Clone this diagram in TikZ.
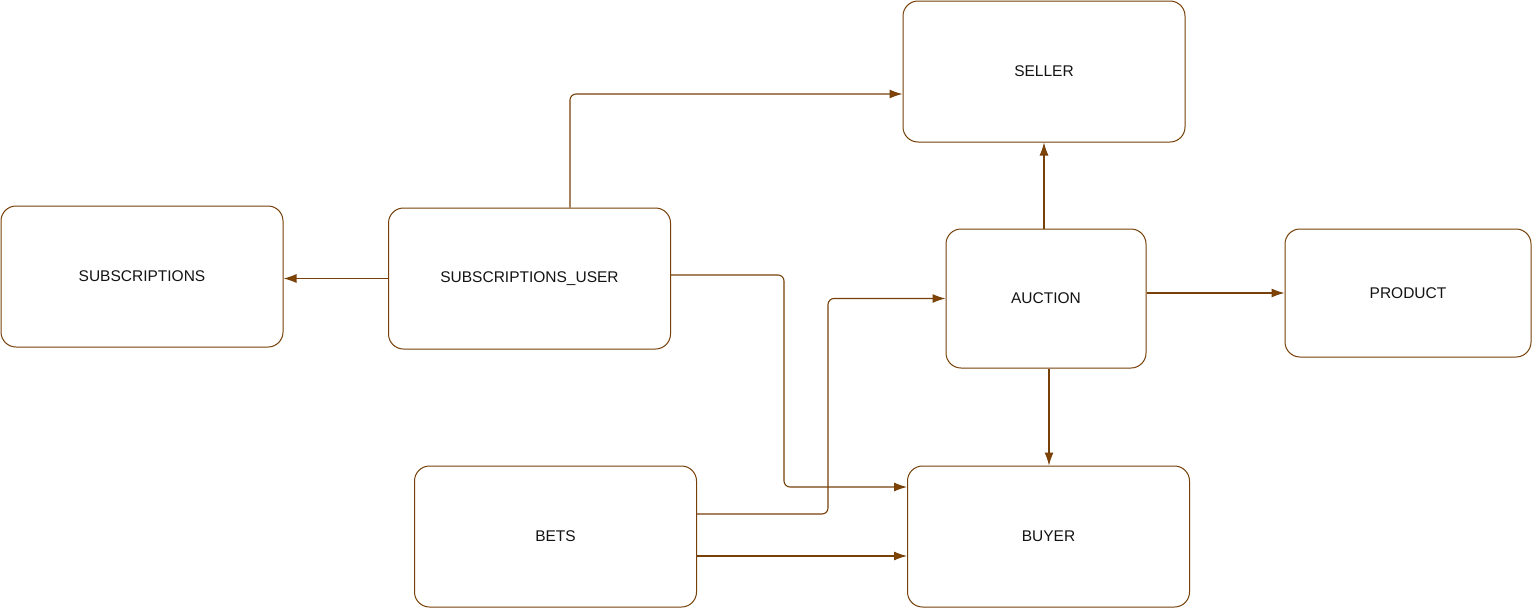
\documentclass[tikz,border=0pt]{standalone}
\usepackage{fontspec}
\setmainfont{Liberation Sans}
\usepackage{xcolor}
\usepackage{tikz}
\usetikzlibrary{arrows.meta, positioning, calc}
\definecolor{linebrown}{RGB}{118, 64, 8}
\definecolor{tipbrown}{RGB}{130, 68, 4}
\definecolor{textdark}{RGB}{20, 20, 20}

\tikzset{
    tablebox/.style={draw=linebrown, line width=1pt, rounded corners=15pt, fill=white,
        font=\fontsize{15.5}{18}\selectfont, text=textdark,
        minimum width=282pt, minimum height=141pt, inner sep=0pt},
    link/.style={draw=linebrown, line width=1.1pt, rounded corners=6pt,
        -{Latex[length=13pt, width=9pt, fill=tipbrown]}}
}

\begin{document}
\begin{tikzpicture}[x=1pt, y=-1pt]
    % Canvas
    \useasboundingbox (0, 0) rectangle (1533, 608);

    % Tables
    \node[tablebox] (seller) at (1044, 71.5) {SELLER};
    \node[tablebox] (subs) at (142, 276.5) {SUBSCRIPTIONS};
    \node[tablebox] (suser) at (529.5, 278.5) {SUBSCRIPTIONS\_USER};
    \node[tablebox, minimum width=200pt, minimum height=139pt] (auction) at (1046, 298.5) {AUCTION};
    \node[tablebox, minimum width=246pt, minimum height=128pt] (product) at (1408, 293) {PRODUCT};
    \node[tablebox] (bets) at (555.5, 536.5) {BETS};
    \node[tablebox] (buyer) at (1048.5, 536.5) {BUYER};

    % Links
    \draw[link] ([xshift=40.5pt]suser.north) |- ([yshift=-22.5pt]seller.west);
    \draw[link] (suser.west) -- (suser.west -| subs.east);
    \draw[link] ([yshift=3.5pt]suser.east) -- ++(113, 0) |- ([yshift=49.5pt]buyer.west);
    \draw[link] ([xshift=-2pt]auction.north) -- ([xshift=-2pt]auction.north |- seller.south);
    \draw[link] (product.west -| auction.east) -- (product.west);
    \draw[link] ([xshift=3pt]auction.south) -- ([xshift=3pt]auction.south |- buyer.north);
    \draw[link] ([yshift=22.5pt]bets.east) -- ++(131, 0) |- (auction.west);
    \draw[link] ([yshift=-19.5pt]bets.east) -- ([yshift=-19.5pt]bets.east -| buyer.west);
\end{tikzpicture}
\end{document}
